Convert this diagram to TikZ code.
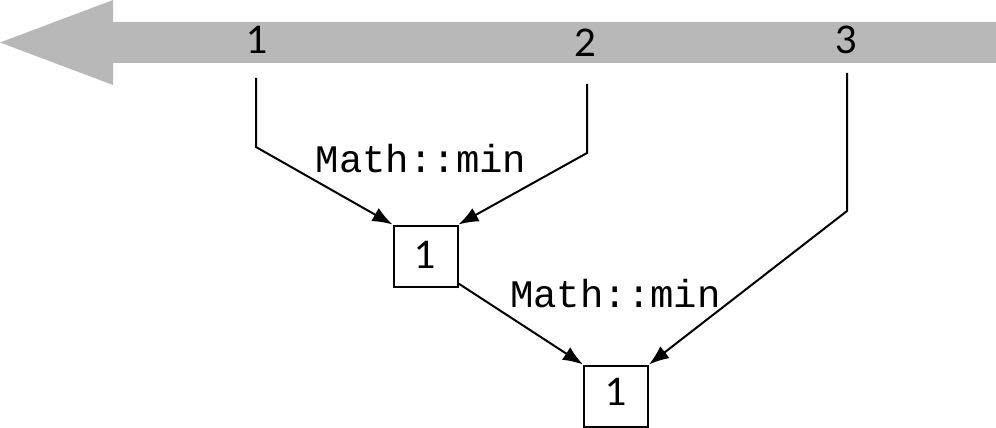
\documentclass[tikz,border=0pt]{standalone}
\usepackage{fontspec}
\setmainfont{Lato}
\newfontfamily\codefont{Liberation Mono}
\usetikzlibrary{arrows.meta}
\definecolor{bandgray}{HTML}{B8B8B8}
\tikzset{
  num/.style={inner sep=0pt, anchor=base, font=\fontsize{38}{38}\selectfont},
  valbox/.style={draw, line width=2pt, minimum width=64pt, minimum height=61pt, inner sep=0pt},
  codelabel/.style={inner sep=0pt, anchor=base, font=\codefont\fontsize{39}{39}\selectfont},
  conn/.style={line width=2pt, -{Latex[length=20pt,width=15pt]}},
}
\begin{document}
\begin{tikzpicture}[x=1pt,y=-1pt]
\useasboundingbox (0,0) rectangle (996,428);
% big arrow
\fill[bandgray] (0,42.5) -- (113,0) -- (113,22) -- (996,22) -- (996,63) -- (113,63) -- (113,85) -- cycle;
% numbers
\node[num] (n1) at (258,54) {1};
\node[num] (n2) at (586,57) {2};
\node[num] (n3) at (847,54) {3};
% boxes
\node[valbox] (b1) at (425.5,256) {};
\node[num] (t1) at (425.5,268) {1};
\node[valbox] (b2) at (616,396) {};
\node[num] (t2) at (616.5,405) {1};
% coordinates
\coordinate (s1) at (256,78);
\coordinate (k1) at (256,147);
\coordinate (s2) at (587,84);
\coordinate (k2) at (587,153);
\coordinate (s3) at (847,73);
\coordinate (k3) at (847,211);
% connectors
\draw[conn] (s1) -- (k1) -- (b1.north west);
\draw[conn] (s2) -- (k2) -- (b1.north east);
\draw[conn] ([yshift=4pt]b1.south east) -- (b2.north west);
\draw[conn] (s3) -- (k3) -- (b2.north east);
% labels
\node[codelabel] (l1) at (421,172) {Math::min};
\node[codelabel] (l2) at (615.5,307) {Math::min};
\end{tikzpicture}
\end{document}
